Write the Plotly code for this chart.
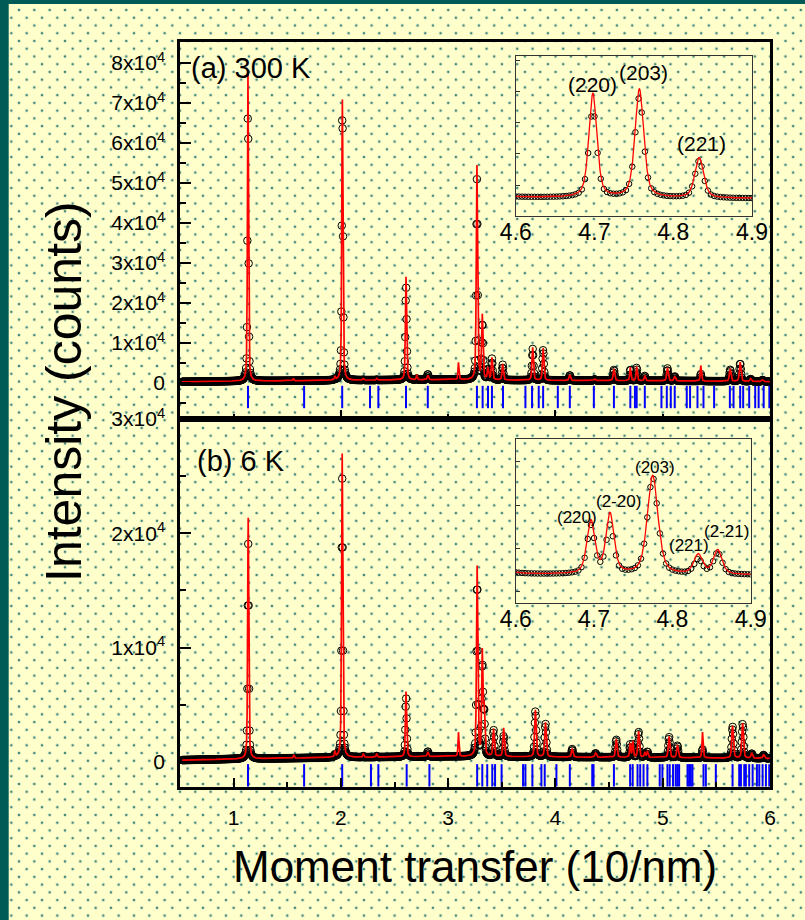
import base64
import numpy as np
import plotly.graph_objects as go

# ---------------- measurement grid ----------------
Q_START, Q_STOP, Q_STEP = 0.52, 5.998, 0.004

# ---------------- background (counts) ----------------
bg_q = [0.5, 1.0, 2.0, 3.0, 3.6, 4.5, 5.0, 6.0]
bg_a = [300, 450, 650, 850, 700, 600, 550, 350]
bg_b = [150, 250, 380, 480, 450, 400, 380, 300]

# ---------------- (a) 300 K reflections ----------------
pos_a = [1.1336, 1.557, 1.944, 2.0138, 2.209, 2.334, 2.607, 2.707, 2.810, 3.096,
         3.268, 3.318, 3.371, 3.408, 3.508, 3.788, 3.885, 4.134, 4.365, 4.545,
         4.698, 4.757, 4.833, 5.044, 5.112, 5.355, 5.629, 5.722, 5.820, 5.930]
obs_a = [70200, 0, 200, 69400, 100, 100, 23500, 300, 1400, 0,
         50000, 14000, 2500, 5200, 3800, 7800, 7600, 1300, 300, 2700,
         2850, 3250, 1200, 3100, 1100, 1800, 2900, 4500, 600, 400]
calc_a = [76700, 600, 900, 70200, 500, 400, 25800, 1200, 1100, 4300,
          53500, 16000, 2800, 5500, 4000, 8200, 8000, 1400, 400, 2900,
          3350, 3500, 1300, 3300, 1200, 3900, 3100, 4800, 700, 450]
fwhm_a = [0.0112, 0.01, 0.01, 0.0128, 0.01, 0.01, 0.013, 0.01, 0.014, 0.01,
          0.014, 0.015, 0.014, 0.014, 0.014, 0.015, 0.015, 0.015, 0.015, 0.016,
          0.012, 0.013, 0.013, 0.016, 0.016, 0.012, 0.017, 0.017, 0.017, 0.017]

# ---------------- (b) 6 K reflections ----------------
pos_b = [1.136, 1.561, 1.944, 2.012, 2.209, 2.334, 2.607, 2.810, 3.096,
         3.270, 3.318, 3.335, 3.423, 3.517, 3.813, 3.907, 4.156, 4.374, 4.567,
         4.696, 4.7204, 4.7749, 4.833, 4.8578, 5.059, 5.137, 5.371, 5.651, 5.745,
         5.83, 5.94]
obs_b = [18800, 0, 200, 24400, 100, 100, 5200, 450, 0,
         15500, 8000, 3500, 2300, 1800, 4000, 2900, 700, 350, 1550,
         1100, 1100, 2235, 330, 500, 1800, 1050, 750, 2750, 3000,
         400, 300]
calc_b = [21100, 300, 500, 26600, 300, 300, 5700, 400, 2100,
          16600, 9000, 4000, 2400, 2500, 4100, 3000, 750, 400, 1600,
          1220, 1380, 2280, 450, 560, 1850, 1100, 2250, 2800, 3050,
          450, 350]
fwhm_b = [0.012, 0.01, 0.01, 0.0132, 0.01, 0.01, 0.013, 0.014, 0.01,
          0.014, 0.014, 0.014, 0.015, 0.015, 0.016, 0.016, 0.016, 0.016, 0.016,
          0.012, 0.012, 0.016, 0.013, 0.013, 0.016, 0.016, 0.012, 0.017, 0.017,
          0.017, 0.017]

# ---------------- Bragg reflection markers ----------------
bragg_a = [1.134, 1.657, 2.012, 2.271, 2.349, 2.607, 2.810, 3.268, 3.321, 3.371,
           3.408, 3.511, 3.720, 3.782, 3.844, 3.885, 4.022, 4.134, 4.358, 4.545,
           4.698, 4.741, 4.757, 4.833, 4.988, 5.038, 5.075, 5.112, 5.224, 5.255,
           5.324, 5.380, 5.479, 5.626, 5.660, 5.722, 5.750, 5.806, 5.862, 5.894,
           5.941, 5.994]
bragg_b = [1.134, 1.657, 2.012, 2.280, 2.349, 2.613, 2.825, 3.270, 3.318, 3.364,
           3.411, 3.437, 3.498, 3.698, 3.720, 3.785, 3.869, 3.900, 4.009, 4.134,
           4.343, 4.355, 4.545, 4.696, 4.720, 4.765, 4.790, 4.821, 4.857, 4.972,
           4.997, 5.044, 5.065, 5.096, 5.121, 5.137, 5.153, 5.231, 5.246, 5.262,
           5.277, 5.380, 5.402, 5.495, 5.651, 5.713, 5.729, 5.760, 5.775, 5.806,
           5.838, 5.878, 5.900, 5.931, 5.962, 5.993]

# tick labels
ytick_a = [0, 10000, 20000, 30000, 40000, 50000, 60000, 70000, 80000]
ytick_b = [0, 10000, 20000, 30000]


def sci(v):
    return "0" if v == 0 else f"{int(v // 10000)}x10<sup>4</sup>"


def profile(q, pos, heights, widths, eta=0.5):
    q = np.asarray(q)[:, None]
    p = np.asarray(pos)[None, :]
    h = np.asarray(heights, float)[None, :]
    g = np.asarray(widths)[None, :]
    r = (q - p) / g
    shape = eta / (1 + 4 * r * r) + (1 - eta) * np.exp(-4 * np.log(2) * r * r)
    return (h * shape).sum(axis=1)


q_obs = np.round(np.arange(Q_START, Q_STOP, Q_STEP), 4)
q_fine = np.union1d(np.arange(Q_START, Q_STOP, 0.0005), np.concatenate([pos_a, pos_b]))

y_obs_a = np.interp(q_obs, bg_q, bg_a) + profile(q_obs, pos_a, obs_a, fwhm_a)
y_calc_a = np.interp(q_fine, bg_q, bg_a) + profile(q_fine, pos_a, calc_a, fwhm_a)
y_obs_b = np.interp(q_obs, bg_q, bg_b) + profile(q_obs, pos_b, obs_b, fwhm_b)
y_calc_b = np.interp(q_fine, bg_q, bg_b) + profile(q_fine, pos_b, calc_b, fwhm_b)

FONT = "Liberation Sans, Arial, sans-serif"
RED = "#FF0000"
BLUE = "#0000FF"

fig = go.Figure()


def add_panel(qo, yo, qc, yc, bragg, bragg_y, xa, ya, msize, lw, show_bragg=True):
    fig.add_trace(go.Scatter(
        x=qo, y=yo, mode="markers", xaxis=xa, yaxis=ya,
        marker=dict(symbol="circle-open", size=msize, color="black",
                    line=dict(width=1, color="black")),
        showlegend=False, hoverinfo="skip"))
    fig.add_trace(go.Scatter(
        x=qc, y=yc, mode="lines", xaxis=xa, yaxis=ya,
        line=dict(color=RED, width=lw), showlegend=False, hoverinfo="skip"))
    if show_bragg:
        fig.add_trace(go.Scatter(
            x=bragg, y=[bragg_y] * len(bragg), mode="markers", xaxis=xa, yaxis=ya,
            marker=dict(symbol="line-ns", size=16, line=dict(width=2, color=BLUE)),
            showlegend=False, hoverinfo="skip"))


# main panels
add_panel(q_obs, y_obs_a, q_fine, y_calc_a, bragg_a, -3500, "x2", "y2", 7.5, 1.7)
add_panel(q_obs, y_obs_b, q_fine, y_calc_b, bragg_b, -1180, "x", "y", 7.5, 1.7)

# enlarged views 4.6 - 4.9
mo = (q_obs >= 4.58) & (q_obs <= 4.92)
mc = (q_fine >= 4.58) & (q_fine <= 4.92)
add_panel(q_obs[mo], y_obs_a[mo], q_fine[mc], y_calc_a[mc], [], 0, "x3", "y3", 5.5, 1.3, False)
add_panel(q_obs[mo], y_obs_b[mo], q_fine[mc], y_calc_b[mc], [], 0, "x4", "y4", 5.5, 1.3, False)

# dotted paper and page border
W, H = 805, 920
svg = (
    f'<svg xmlns="http://www.w3.org/2000/svg" width="{W}" height="{H}" viewBox="0 0 {W} {H}">'
    '<defs><pattern id="d" x="3.67" y="-5.48" width="15.33" height="15.48" '
    'patternUnits="userSpaceOnUse">'
    + "".join(
        f'<circle cx="{cx}" cy="{cy}" r="1.7" fill="#7fb3a6" opacity="0.55"/>'
        f'<circle cx="{cx}" cy="{cy}" r="0.95" fill="#1f6b62"/>'
        for cx, cy in [(0, 0), (15.33, 0), (0, 15.48), (15.33, 15.48), (7.665, 7.74)])
    + '</pattern></defs>'
    f'<rect width="{W}" height="{H}" fill="#FFFFCC"/>'
    f'<rect width="{W}" height="{H}" fill="url(#d)"/>'
    f'<rect x="0" y="0" width="8.7" height="{H}" fill="#005A55"/>'
    f'<rect x="0" y="0" width="{W}" height="4" fill="#005A55"/>'
    '</svg>'
)
src = "data:image/svg+xml;base64," + base64.b64encode(svg.encode()).decode()

L, R, T, B = 180, 35, 42, 133
PW, PH = W - L - R, H - T - B
split = (787 - 419) / PH

axis_common = dict(showline=True, linecolor="black", linewidth=2.5, mirror=True,
                   showgrid=False, zeroline=False, ticks="inside", tickcolor="black",
                   tickwidth=2, tickfont=dict(family=FONT, size=21, color="black"))

fig.update_layout(
    width=W, height=H,
    margin=dict(l=L, r=R, t=T, b=B),
    paper_bgcolor="#FFFFCC", plot_bgcolor="rgba(0,0,0,0)",
    images=[dict(source=src, xref="paper", yref="paper", x=-L / PW, y=1 + T / PH,
                 sizex=W / PW, sizey=H / PH, xanchor="left", yanchor="top",
                 sizing="stretch", layer="below")],
    xaxis=dict(axis_common, domain=[0, 1], anchor="y", range=[0.5, 6],
               tickvals=[1, 2, 3, 4, 5, 6], ticklen=9, ticklabelstandoff=10,
               tickfont=dict(family=FONT, size=21, color="black"),
               minor=dict(tickvals=[1.5, 2.5, 3.5, 4.5, 5.5], ticklen=5, ticks="inside",
                          tickcolor="black", tickwidth=2)),
    yaxis=dict(axis_common, domain=[0, split], anchor="x", range=[-2200, 30000],
               tickvals=ytick_b, ticktext=[sci(v) for v in ytick_b], ticklen=11,
               ticklabelstandoff=8,
               minor=dict(tickvals=[5000, 15000, 25000], ticklen=6, ticks="inside",
                          tickcolor="black", tickwidth=2)),
    xaxis2=dict(axis_common, domain=[0, 1], anchor="y2", range=[0.5, 6], matches="x",
                showticklabels=False, tickvals=[2, 4, 6], ticklen=9,
                minor=dict(tickvals=[1, 3, 5], ticklen=5, ticks="inside",
                           tickcolor="black", tickwidth=2)),
    yaxis2=dict(axis_common, domain=[split, 1], anchor="x2", range=[-9000, 85250],
                tickvals=ytick_a, ticktext=[sci(v) for v in ytick_a], ticklen=11,
                ticklabelstandoff=8,
                minor=dict(tickvals=[-5000, 5000, 15000, 25000, 35000, 45000, 55000,
                                     65000, 75000],
                           ticklen=6, ticks="inside", tickcolor="black", tickwidth=2)),
    xaxis3=dict(showline=True, linecolor="#333333", linewidth=1, mirror=True,
                showgrid=False, zeroline=False, anchor="y3",
                domain=[(515.7 - L) / PW, (752 - L) / PW], range=[4.6, 4.9],
                tickvals=[4.6, 4.7, 4.8, 4.9], ticks="",
                tickfont=dict(family=FONT, size=23, color="black"), ticklabelstandoff=-4),
    yaxis3=dict(showline=True, linecolor="#333333", linewidth=1, mirror=True,
                showgrid=False, zeroline=False, anchor="x3",
                domain=[(787 - 215.7) / PH, (787 - 56) / PH], range=[10, 5160],
                tickvals=[1000, 2000, 3000, 4000, 5000], ticks="inside", ticklen=4,
                tickcolor="#333333", showticklabels=False),
    xaxis4=dict(showline=True, linecolor="#333333", linewidth=1, mirror=True,
                showgrid=False, zeroline=False, anchor="y4",
                domain=[(515.7 - L) / PW, (750.7 - L) / PW], range=[4.6, 4.9],
                tickvals=[4.6, 4.7, 4.8, 4.9], ticks="",
                tickfont=dict(family=FONT, size=23, color="black"), ticklabelstandoff=-4),
    yaxis4=dict(showline=True, linecolor="#333333", linewidth=1, mirror=True,
                showgrid=False, zeroline=False, anchor="x4",
                domain=[(787 - 602.7) / PH, (787 - 439) / PH], range=[-254, 3526],
                tickvals=[0, 1000, 2000, 3000], ticks="inside", ticklen=4,
                tickcolor="#333333", showticklabels=False),
)

ann = []


def label(text, x, y, xref, yref, size, xanchor="center", yanchor="middle", **kw):
    ann.append(dict(text=text, x=x, y=y, xref=xref, yref=yref, showarrow=False,
                    xanchor=xanchor, yanchor=yanchor,
                    font=dict(family=FONT, size=size, color="black"), **kw))


label("(a) 300 K", (189 - L) / PW, (787 - 68) / PH, "paper", "paper", 29, xanchor="left")
label("(b) 6 K", (195 - L) / PW, (787 - 461) / PH, "paper", "paper", 29, xanchor="left")
label("Intensity (counts)", (64 - L) / PW, (787 - 392) / PH, "paper", "paper", 50,
      textangle=-90)
label("Moment transfer (10/nm)", 0.5, (787 - 866) / PH, "paper", "paper", 44)

for t, x, y in [("(220)", 4.698, 4226), ("(203)", 4.7618, 4613), ("(221)", 4.8355, 2323)]:
    label(t, x, y, "x3", "y3", 21)
for t, x, y in [("(220)", 4.6779, 1725), ("(2-20)", 4.7306, 2078), ("(203)", 4.7778, 2879),
                ("(221)", 4.8212, 1078), ("(2-21)", 4.8694, 1385)]:
    label(t, x, y, "x4", "y4", 17)

fig.update_layout(annotations=ann)
fig.write_html("out.html")
